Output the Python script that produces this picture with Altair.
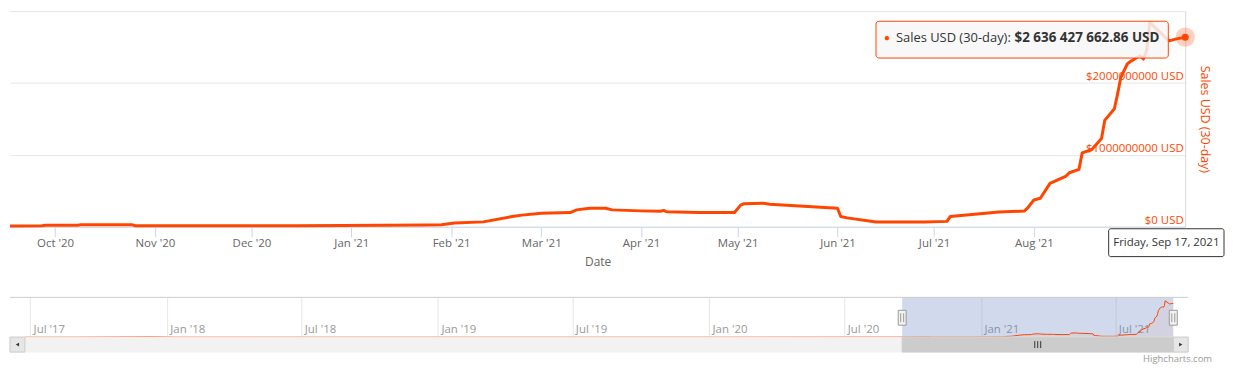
import altair as alt
import pandas as pd

FONT = "Open Sans"
ORANGE = "#ff4500"
GRID = "#e6e6e6"

series_name = "Sales USD (30-day)"
x_title = "Date"
credit = "Highcharts.com"

# ---- visible (selected) range: 30-day sales, millions of USD ----
dates = [
    "2020-09-17", "2020-09-27", "2020-09-28", "2020-10-08", "2020-10-09", "2020-10-25",
    "2020-10-26", "2020-12-15", "2021-01-12", "2021-01-24", "2021-01-29", "2021-02-02",
    "2021-02-11", "2021-02-20", "2021-02-23", "2021-03-01", "2021-03-10", "2021-03-12",
    "2021-03-16", "2021-03-21", "2021-03-23", "2021-04-01", "2021-04-07", "2021-04-08",
    "2021-04-09", "2021-04-19", "2021-04-30", "2021-05-02", "2021-05-03", "2021-05-09",
    "2021-05-11", "2021-06-01", "2021-06-02", "2021-06-04", "2021-06-13", "2021-06-28",
    "2021-07-05", "2021-07-06", "2021-07-17", "2021-07-21", "2021-07-29", "2021-07-30",
    "2021-08-01", "2021-08-03", "2021-08-06", "2021-08-11", "2021-08-12", "2021-08-15",
    "2021-08-16", "2021-08-19", "2021-08-22", "2021-08-23", "2021-08-26", "2021-08-27",
    "2021-08-28", "2021-08-30", "2021-08-31", "2021-09-02", "2021-09-03", "2021-09-04",
    "2021-09-05", "2021-09-06", "2021-09-12", "2021-09-14", "2021-09-17",
]
sales_musd = [
    12, 13, 20, 21, 27, 27,
    14, 14, 20, 25, 27, 52,
    68, 142, 162, 189, 198, 235,
    258, 258, 235, 221, 215, 228,
    208, 200, 198, 304, 320, 328,
    312, 258, 142, 124, 65, 65,
    75, 142, 189, 205, 218, 258,
    373, 397, 604, 705, 751, 798,
    1027, 1074, 1226, 1479, 1641, 1848,
    2078, 2263, 2299, 2354, 2378, 2332,
    2450, 2838, 2585, 2609, 2636.42766286,
]

# ---- earlier history, only visible in the navigator ----
hist_dates = ["2017-06-24", "2017-09-01", "2017-12-15", "2018-01-10", "2018-06-01",
              "2019-01-01", "2019-07-01", "2020-01-01", "2020-07-01", "2020-09-16"]
hist_musd = [0, 2, 30, 4, 3, 2, 2, 3, 8, 12]

y_ticks = [0, 1e9, 2e9, 3e9]
y_max = 3e9
nav_ymax = 3.1e9

main_df = pd.DataFrame({"date": pd.to_datetime(dates), "value": [v * 1e6 for v in sales_musd]})
nav_df = pd.DataFrame({"date": pd.to_datetime(hist_dates + dates),
                       "value": [v * 1e6 for v in hist_musd + sales_musd]})

start = main_df["date"].iloc[0]
end = main_df["date"].iloc[-1]
nav_start = nav_df["date"].iloc[0]
last_value = main_df["value"].iloc[-1]

last_df = pd.DataFrame({
    "date": [end],
    "value": [last_value],
    "tip_name": [series_name + ":"],
    "tip_value": ["${:,.2f} USD".format(last_value).replace(",", " ")],
    "xlabel": [end.strftime("%A, %b %d, %Y")],
})


def dt(ts):
    return alt.DateTime(year=int(ts.year), month=int(ts.month), date=int(ts.day))


# ================= main chart =================
x_main = alt.X(
    "date:T", title=x_title,
    scale=alt.Scale(domain=[dt(start), dt(end)]),
    axis=alt.Axis(format="%b '%y", tickCount={"interval": "month", "step": 1},
                  labelColor="#666666", labelFont=FONT, labelFontSize=11.5,
                  tickColor="#ccd6eb", tickSize=10, domainColor="#ccd6eb",
                  grid=False, labelPadding=1, labelFlush=False,
                  titleColor="#666666", titleFont=FONT, titleFontSize=12,
                  titleFontWeight="normal", titlePadding=7, zindex=0),
)
y_main = alt.Y(
    "value:Q", title=series_name,
    scale=alt.Scale(domain=[0, y_max]),
    axis=alt.Axis(orient="right", values=y_ticks,
                  labelExpr="datum.value >= 3000000000 ? '' : '$' + datum.value + ' USD'",
                  labelAlign="right", labelBaseline="alphabetic", labelPadding=-2,
                  labelOffset=-3, labelColor=ORANGE, labelFont=FONT, labelFontSize=11.5,
                  labelFlush=False, ticks=False, tickSize=0,
                  grid=True, gridColor=GRID, domain=True, domainColor="#d8d8d8",
                  titleColor=ORANGE, titleFont=FONT, titleFontSize=12.5,
                  titleFontWeight="normal", titlePadding=12, zindex=0),
)

line = alt.Chart(main_df).mark_line(color=ORANGE, strokeWidth=3, strokeJoin="round").encode(
    x=x_main, y=y_main)
halo = alt.Chart(last_df).mark_circle(color=ORANGE, opacity=0.25, size=380).encode(x=x_main, y=y_main)
dot = alt.Chart(last_df).mark_circle(color=ORANGE, opacity=1, size=50).encode(x=x_main, y=y_main)

tip_box = alt.Chart(last_df).mark_rect(
    fill="#f7f7f7", fillOpacity=0.85, stroke=ORANGE, strokeWidth=1, cornerRadius=3,
    xOffset=-311, x2Offset=-17, yOffset=-16, y2Offset=21,
).encode(x=x_main, x2=alt.X2("date:T"), y=y_main, y2=alt.Y2("value:Q"))
tip_dot = alt.Chart(last_df).mark_text(
    text="●", color=ORANGE, fontSize=10, align="left", baseline="middle", dx=-303, dy=1,
).encode(x=x_main, y=y_main)
tip_name = alt.Chart(last_df).mark_text(
    align="left", baseline="middle", dx=-291, dy=1, fontSize=13, color="#333333", font=FONT,
).encode(x=x_main, y=y_main, text="tip_name:N")
tip_val = alt.Chart(last_df).mark_text(
    align="right", baseline="middle", dx=-26, dy=1, fontSize=13.5, fontWeight="bold",
    color="#333333", font=FONT,
).encode(x=x_main, y=y_main, text="tip_value:N")

x_box = alt.Chart(last_df).mark_rect(
    fill="#ffffff", stroke="#333333", strokeWidth=1, cornerRadius=2,
    xOffset=-77, x2Offset=39, yOffset=2, y2Offset=30,
).encode(x=x_main, x2=alt.X2("date:T"), y=alt.datum(0), y2=alt.datum(0))
x_text = alt.Chart(last_df).mark_text(
    fontSize=11.5, color="#333333", font=FONT, align="center", baseline="middle", dx=-19, dy=16,
).encode(x=x_main, y=alt.datum(0), text="xlabel:N")

main = alt.layer(line, halo, dot, tip_box, tip_dot, tip_name, tip_val, x_box, x_text).properties(
    width=1182, height=217)

# ================= navigator =================
NAV_W = 1185
nav_x = alt.X(
    "date:T", title=None,
    scale=alt.Scale(domain=[dt(nav_start), dt(end)], range=[15, NAV_W - 15]),
    axis=alt.Axis(format="%b '%y", tickCount={"interval": "month", "step": 6},
                  grid=True, gridColor=GRID, domain=False, ticks=False, tickSize=0,
                  labelAlign="left", labelBaseline="alphabetic", labelPadding=-5,
                  labelOffset=3, labelColor="#999999", labelFont=FONT, labelFontSize=11.5,
                  labelFlush=False, labelOverlap=False, labelBound=False, zindex=0),
)
nav_y = alt.Y("value:Q", scale=alt.Scale(domain=[0, nav_ymax]), axis=None)

sel_df = pd.DataFrame({"date": [start], "date2": [end]})
track_df = pd.DataFrame({"date": [nav_start], "date2": [end]})
left_df = pd.DataFrame({"date": [nav_start]})
right_df = pd.DataFrame({"date": [end]})
handles_df = pd.DataFrame({"date": [start, end]})
mid_df = pd.DataFrame({"date": [start + (end - start) / 2]})

shade = alt.Chart(sel_df).mark_rect(color="#6685c2", opacity=0.3).encode(
    x=nav_x, x2=alt.X2("date2:T"), y=alt.value(0), y2=alt.value(40))
nav_area = alt.Chart(nav_df).mark_area(color=ORANGE, opacity=0.05).encode(x=nav_x, y=nav_y)
nav_line = alt.Chart(nav_df).mark_line(color=ORANGE, strokeWidth=1).encode(x=nav_x, y=nav_y)
outline = alt.Chart(track_df).mark_rule(color="#cccccc", strokeWidth=1, xOffset=-15, x2Offset=15).encode(
    x=nav_x, x2=alt.X2("date2:T"), y=alt.value(0))
track = alt.Chart(track_df).mark_rect(fill="#f2f2f2", stroke="#f2f2f2", xOffset=-15, x2Offset=15).encode(
    x=nav_x, x2=alt.X2("date2:T"), y=alt.value(40), y2=alt.value(55))
thumb = alt.Chart(sel_df).mark_rect(fill="#cccccc", stroke="#cccccc").encode(
    x=nav_x, x2=alt.X2("date2:T"), y=alt.value(40), y2=alt.value(55))
grips = [
    alt.Chart(mid_df).mark_rule(color="#333333", strokeWidth=1, xOffset=o).encode(
        x=nav_x, y=alt.value(44), y2=alt.value(51))
    for o in (-3, 0, 3)
]
btn_l = alt.Chart(left_df).mark_rect(fill="#e6e6e6", stroke="#cccccc", xOffset=-15, x2Offset=0).encode(
    x=nav_x, x2=alt.X2("date:T"), y=alt.value(40), y2=alt.value(55))
btn_r = alt.Chart(right_df).mark_rect(fill="#e6e6e6", stroke="#cccccc", xOffset=0, x2Offset=15).encode(
    x=nav_x, x2=alt.X2("date:T"), y=alt.value(40), y2=alt.value(55))
arr_l = alt.Chart(left_df).mark_point(shape="triangle-left", filled=True, color="#333333", size=14,
                                      opacity=1, xOffset=-7.5).encode(x=nav_x, y=alt.value(47.5))
arr_r = alt.Chart(right_df).mark_point(shape="triangle-right", filled=True, color="#333333", size=14,
                                       opacity=1, xOffset=7.5).encode(x=nav_x, y=alt.value(47.5))
handles = alt.Chart(handles_df).mark_rect(fill="#f2f2f2", stroke="#999999", strokeWidth=1,
                                          xOffset=-4, x2Offset=4).encode(
    x=nav_x, x2=alt.X2("date:T"), y=alt.value(13), y2=alt.value(28))
handle_lines = [
    alt.Chart(handles_df).mark_rule(color="#999999", strokeWidth=1, xOffset=o).encode(
        x=nav_x, y=alt.value(16), y2=alt.value(25))
    for o in (-1.5, 1.5)
]
credit_txt = alt.Chart(right_df).mark_text(
    text=credit, align="right", baseline="middle", dx=39, fontSize=9.5, color="#999999", font=FONT,
).encode(x=nav_x, y=alt.value(62))

nav = alt.layer(
    shade, nav_area, nav_line, outline, track, thumb, *grips, btn_l, btn_r, arr_l, arr_r,
    handles, *handle_lines, credit_txt,
).properties(width=NAV_W, height=40)

chart = alt.vconcat(main, nav, spacing=29).resolve_scale(
    x="independent", y="independent"
).properties(
    padding={"left": 0, "top": 2, "right": 0, "bottom": 0}
).configure(font=FONT).configure_view(stroke=None)

chart.save("out.html", embed_options={"renderer": "svg", "actions": False})
